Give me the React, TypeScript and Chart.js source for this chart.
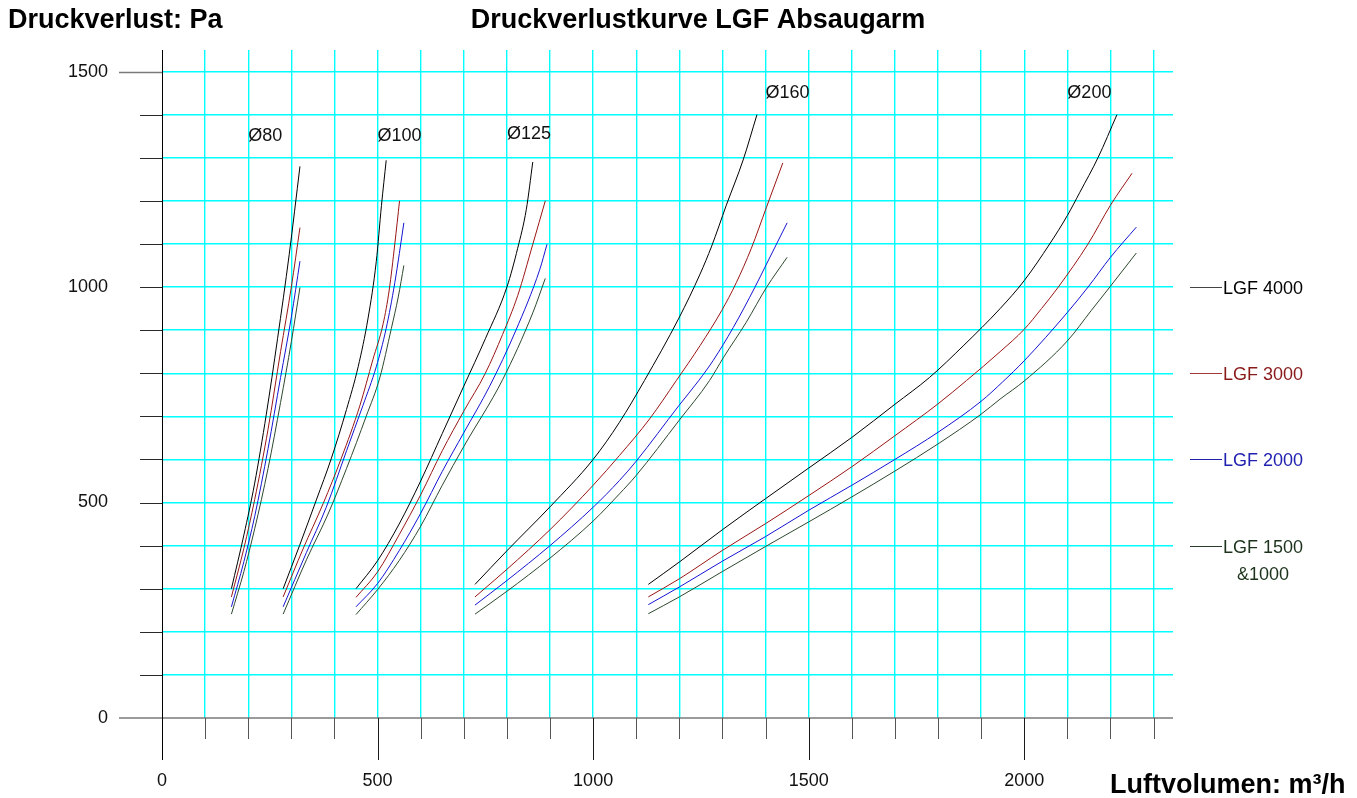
import React, { useEffect, useRef } from "react";
import { Chart, registerables } from "chart.js";

Chart.register(...registerables);

type Pt = [number, number];

// ---- labels / ticks ----
const X_TICK_LABELS = [0, 500, 1000, 1500, 2000];
const Y_TICK_LABELS = [0, 500, 1000, 1500];
const DIAMETERS = ["Ø80", "Ø100", "Ø125", "Ø160", "Ø200"];
const DIAMETER_LABEL_X = [200, 500, 800, 1400, 2100];
const DIAMETER_LABEL_Y = [1350, 1350, 1355, 1450, 1450];
const MODELS = ["LGF 4000", "LGF 3000", "LGF 2000", "LGF 1500"];
const MODEL_SUFFIX = ["", "", "", "&1000"];
const LEGEND_Y = [1000, 800, 600, 400];
const TITLE = "Druckverlustkurve LGF Absaugarm";
const Y_TITLE = "Druckverlust: Pa";
const X_TITLE = "Luftvolumen: m³/h";

// ---- series: [airflow m³/h, pressure Pa] ----
// Ø80
const d80_4000: Pt[] = [[161, 300], [190, 425], [215, 545], [242, 705], [268, 880], [295, 1075], [320, 1280]];
const d80_3000: Pt[] = [[161, 281], [190, 394], [215, 507], [246, 670], [275, 850], [300, 1000], [320, 1138]];
const d80_2000: Pt[] = [[161, 258], [190, 363], [215, 468], [246, 625], [275, 790], [300, 930], [320, 1060]];
const d80_1500: Pt[] = [[161, 241], [190, 340], [215, 439], [246, 579], [275, 732], [300, 873], [320, 999]];
// Ø100
const d100_4000: Pt[] = [[281, 300], [319, 400], [358, 506], [393, 603], [428, 716], [455, 815], [478, 928], [497, 1059], [509, 1189], [520, 1294]];
const d100_3000: Pt[] = [[281, 281], [327, 392], [374, 498], [416, 603], [459, 725], [489, 831], [513, 915], [527, 993], [540, 1100], [551, 1200]];
const d100_2000: Pt[] = [[281, 258], [335, 384], [381, 489], [428, 620], [466, 725], [497, 815], [520, 904], [540, 1010], [561, 1149]];
const d100_1500: Pt[] = [[281, 241], [335, 367], [385, 473], [428, 579], [474, 701], [505, 789], [532, 904], [548, 977], [561, 1050]];
// Ø125
const d125_4000: Pt[] = [[450, 300], [500, 365], [550, 450], [600, 550], [650, 660], [700, 770], [750, 880], [800, 1000], [825, 1090], [845, 1180], [860, 1290]];
const d125_3000: Pt[] = [[450, 280], [500, 339], [550, 425], [600, 518], [650, 620], [700, 712], [750, 800], [790, 890], [825, 980], [860, 1099], [889, 1200]];
const d125_2000: Pt[] = [[450, 258], [500, 312], [550, 388], [600, 475], [650, 572], [700, 662], [760, 770], [821, 900], [876, 1040], [893, 1099]];
const d125_1500: Pt[] = [[450, 240], [500, 298], [550, 365], [600, 445], [650, 540], [700, 630], [790, 785], [860, 940], [889, 1020]];
// Ø160
const d160_4000: Pt[] = [[726, 310], [800, 388], [900, 490], [1000, 600], [1061, 686], [1119, 783], [1199, 928], [1248, 1030], [1275, 1095], [1309, 1190], [1348, 1295], [1380, 1400]];
const d160_3000: Pt[] = [[726, 281], [800, 345], [900, 437], [1000, 540], [1061, 609], [1131, 694], [1193, 783], [1248, 864], [1298, 945], [1332, 1010], [1367, 1090], [1402, 1185], [1440, 1288]];
const d160_2000: Pt[] = [[726, 262], [800, 319], [900, 400], [1000, 489], [1061, 551], [1100, 596], [1199, 725], [1245, 783], [1278, 829], [1325, 906], [1375, 999], [1402, 1053], [1450, 1149]];
const d160_1500: Pt[] = [[726, 241], [800, 294], [900, 371], [1000, 457], [1061, 520], [1100, 563], [1199, 690], [1270, 783], [1302, 836], [1355, 918], [1402, 999], [1450, 1069]];
// Ø200
const d200_4000: Pt[] = [[1128, 310], [1200, 362], [1300, 437], [1400, 509], [1500, 580], [1600, 651], [1700, 728], [1780, 790], [1860, 865], [1944, 950], [2000, 1015], [2059, 1100], [2100, 1166], [2129, 1220], [2171, 1300], [2215, 1400]];
const d200_3000: Pt[] = [[1128, 281], [1200, 323], [1300, 389], [1400, 451], [1500, 516], [1600, 583], [1700, 655], [1800, 729], [1866, 783], [1944, 850], [2000, 902], [2040, 950], [2079, 1000], [2148, 1100], [2200, 1190], [2250, 1264]];
const d200_2000: Pt[] = [[1128, 263], [1200, 304], [1300, 364], [1400, 421], [1500, 482], [1600, 540], [1700, 600], [1800, 663], [1900, 735], [1950, 780], [2000, 829], [2100, 941], [2148, 1000], [2200, 1069], [2260, 1139]];
const d200_1500: Pt[] = [[1128, 242], [1200, 281], [1300, 340], [1400, 398], [1500, 455], [1600, 513], [1700, 573], [1800, 636], [1900, 705], [1944, 740], [2000, 782], [2100, 875], [2155, 945], [2200, 1002], [2260, 1079]];

const GROUPS: Pt[][][] = [
  [d80_4000, d80_3000, d80_2000, d80_1500],
  [d100_4000, d100_3000, d100_2000, d100_1500],
  [d125_4000, d125_3000, d125_2000, d125_1500],
  [d160_4000, d160_3000, d160_2000, d160_1500],
  [d200_4000, d200_3000, d200_2000, d200_1500],
];

const LINE_COLORS = ["#000000", "#9a1515", "#1414d2", "#2c482c"];
const LEGEND_LINE_COLORS = ["#444444", "#a33a3a", "#2020a8", "#2c3a2c"];
const LEGEND_TEXT_COLORS = ["#000000", "#8a1a1a", "#2222b0", "#1c321c"];
const FONT = "'Liberation Sans', Arial, Helvetica, sans-serif";
const GRID = "#00ffff";

const gridColor = (c: any) => (c && c.tick && c.tick.value === 0 ? "rgba(255,255,255,0)" : GRID);

const decorPlugin = {
  id: "decor",
  afterDraw(chart: any) {
    const { ctx, chartArea, scales } = chart;
    const xs = scales.x;
    const ys = scales.y;
    const y0 = ys.getPixelForValue(0);
    const x0 = xs.getPixelForValue(0);
    ctx.save();

    // zero line (horizontal)
    ctx.strokeStyle = "#7a7a7a";
    ctx.lineWidth = 1.6;
    ctx.beginPath();
    ctx.moveTo(119, y0);
    ctx.lineTo(chartArea.right, y0);
    ctx.stroke();

    // left ticks
    for (let v = 100; v <= 1500; v += 100) {
      const y = Math.round(ys.getPixelForValue(v)) + 0.5;
      ctx.beginPath();
      if (v === 1500) {
        ctx.strokeStyle = "#7a7a7a";
        ctx.lineWidth = 1.6;
        ctx.moveTo(119, y);
      } else {
        ctx.strokeStyle = "#2a2a2a";
        ctx.lineWidth = 1;
        ctx.moveTo(140, y);
      }
      ctx.lineTo(x0, y);
      ctx.stroke();
    }

    // bottom ticks
    for (let v = 100; v <= 2300; v += 100) {
      const x = Math.round(xs.getPixelForValue(v)) + 0.5;
      ctx.beginPath();
      if (v % 500 === 0) {
        ctx.strokeStyle = "#1a1a1a";
        ctx.lineWidth = 1;
        ctx.moveTo(x, y0);
        ctx.lineTo(x, y0 + 42);
      } else {
        ctx.strokeStyle = "#555555";
        ctx.lineWidth = 1;
        ctx.moveTo(x, y0);
        ctx.lineTo(x, y0 + 21);
      }
      ctx.stroke();
    }

    // y axis line
    ctx.strokeStyle = "#000000";
    ctx.lineWidth = 1;
    ctx.beginPath();
    const xa = Math.round(x0) + 0.5;
    ctx.moveTo(xa, chartArea.top);
    ctx.lineTo(xa, y0 + 42);
    ctx.stroke();

    // diameter labels
    ctx.fillStyle = "#111111";
    ctx.font = `18px ${FONT}`;
    ctx.textAlign = "left";
    ctx.textBaseline = "middle";
    DIAMETERS.forEach((d, i) => {
      ctx.fillText(d, xs.getPixelForValue(DIAMETER_LABEL_X[i]), ys.getPixelForValue(DIAMETER_LABEL_Y[i]));
    });

    // legend
    MODELS.forEach((m, i) => {
      const y = Math.round(ys.getPixelForValue(LEGEND_Y[i])) + 0.5;
      const lx = chartArea.right + 17;
      ctx.strokeStyle = LEGEND_LINE_COLORS[i];
      ctx.lineWidth = 1;
      ctx.beginPath();
      ctx.moveTo(lx, y);
      ctx.lineTo(lx + 32, y);
      ctx.stroke();
      ctx.fillStyle = LEGEND_TEXT_COLORS[i];
      ctx.textAlign = "left";
      ctx.fillText(m, lx + 33, y + 2);
      if (MODEL_SUFFIX[i]) {
        const w = ctx.measureText(m).width;
        ctx.textAlign = "center";
        ctx.fillText(MODEL_SUFFIX[i], lx + 33 + w / 2, y + 29);
      }
    });

    // titles
    ctx.fillStyle = "#000000";
    ctx.font = `bold 27px ${FONT}`;
    ctx.textBaseline = "alphabetic";
    ctx.textAlign = "left";
    ctx.fillText(Y_TITLE, 8, 28);
    ctx.textAlign = "center";
    ctx.fillText(TITLE, 698, 28);
    ctx.textAlign = "left";
    ctx.fillText(X_TITLE, 1110, 793);

    ctx.restore();
  },
};

export default function App() {
  const ref = useRef<HTMLCanvasElement | null>(null);

  useEffect(() => {
    if (!ref.current) return;
    const datasets: any[] = [];
    GROUPS.forEach((group, gi) => {
      group.forEach((series, si) => {
        datasets.push({
          label: `${DIAMETERS[gi]} ${MODELS[si]}`,
          data: series.map(([x, y]) => ({ x, y })),
          borderColor: LINE_COLORS[si],
          backgroundColor: LINE_COLORS[si],
          borderWidth: 1,
          pointRadius: 0,
          fill: false,
          cubicInterpolationMode: "monotone",
        });
      });
    });

    const chart = new Chart(ref.current, {
      type: "line",
      data: { datasets },
      plugins: [decorPlugin],
      options: {
        animation: false,
        responsive: true,
        maintainAspectRatio: false,
        devicePixelRatio: 1,
        layout: { padding: { left: 0, top: 50, right: 184, bottom: 0 } },
        plugins: {
          legend: { display: false },
          tooltip: { enabled: false },
          title: { display: false },
        },
        scales: {
          x: {
            type: "linear",
            min: 0,
            max: 2345,
            border: { display: false },
            grid: {
              color: gridColor,
              lineWidth: 1.4,
              drawTicks: false,
            },
            ticks: {
              stepSize: 100,
              includeBounds: false,
              autoSkip: false,
              maxRotation: 0,
              padding: 52,
              color: "#111111",
              font: { family: FONT, size: 18 },
              callback: (v: any) => (X_TICK_LABELS.includes(Number(v)) ? String(v) : ""),
            },
            afterFit: (s: any) => {
              s.height = 80;
              s.paddingLeft = 0;
              s.paddingRight = 0;
            },
          },
          y: {
            type: "linear",
            min: 0,
            max: 1550,
            border: { display: false },
            grid: {
              color: gridColor,
              lineWidth: 1.4,
              drawTicks: false,
            },
            ticks: {
              stepSize: 100,
              includeBounds: false,
              autoSkip: false,
              padding: 54,
              color: "#111111",
              font: { family: FONT, size: 18 },
              callback: (v: any) => (Y_TICK_LABELS.includes(Number(v)) ? String(v) : ""),
            },
            afterFit: (s: any) => {
              s.width = 162;
              s.paddingTop = 0;
              s.paddingBottom = 0;
            },
          },
        },
      } as any,
    });
    return () => chart.destroy();
  }, []);

  return (
    <div style={{ position: "absolute", left: 0, top: 0, width: 1357, height: 798, background: "#ffffff" }}>
      <canvas ref={ref} style={{ display: "block" }} />
    </div>
  );
}
